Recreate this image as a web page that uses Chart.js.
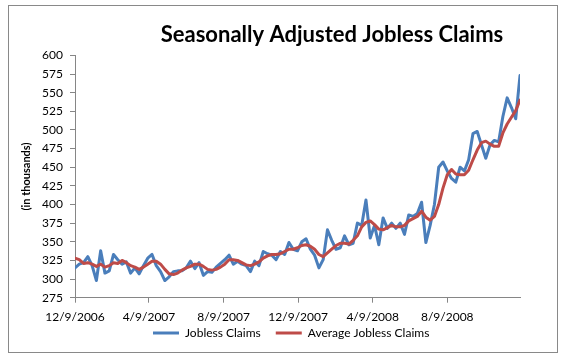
<!DOCTYPE html>
<html><head><meta charset="utf-8">
<script src="https://cdn.jsdelivr.net/npm/chart.js@4"></script>
<style>
html,body{margin:0;padding:0;background:#fff;}
#wrap{position:relative;width:564px;height:361px;}
#frame{position:absolute;left:8px;top:5px;width:550px;height:348px;border:1px solid #898989;box-sizing:border-box;pointer-events:none;}
canvas{position:absolute;left:0;top:0;}
</style></head><body>
<div id="wrap"><canvas id="c" width="564" height="361"></canvas><div id="frame"></div></div>
<script>
// Weekly series starting with the week of 12/9/2006 (one value per week)
const firstWeek = '12/9/2006';
const joblessClaims = [
  315,320,322,330,318,298,338,308,311,333,
  326,320,323,308,315,307,318,328,333,318,
  310,298,303,310,311,311,315,324,314,322,
  305,310,309,316,321,326,332,320,324,320,
  318,310,324,318,337,334,332,326,337,333,
  349,340,338,350,354,340,332,315,326,366,
  352,340,342,358,346,348,375,372,406,355,
  372,346,382,368,375,368,375,360,386,384,
  388,403,349,372,400,450,457,445,435,430,
  450,445,460,495,498,480,462,480,486,484,
  518,543,530,515,573
];
const averageClaims = [
  328,326,321,322,320,317,320,316,318,322,
  321,325,322,318,316,313,316,320,324,324,
  320,313,307,306,308,312,315,317,320,320,
  317,313,312,313,316,320,326,326,325,322,
  319,318,320,323,328,331,333,333,334,337,
  340,340,342,345,346,344,340,333,330,335,
  340,345,348,348,347,352,358,370,376,378,
  373,367,366,369,372,370,370,372,378,381,
  384,391,383,379,384,400,422,440,447,441,
  440,440,446,460,473,483,485,481,478,478,
  496,508,517,526,540
];
const tickDates = ['12/9/2006','4/9/2007','8/9/2007','12/9/2007','4/9/2008','8/9/2008'];
const yMin = 275, yMax = 600, yStep = 25;
const seriesNames = ['Jobless Claims', 'Average Jobless Claims'];
const seriesColors = ['#4A7EBB', '#BE4B48'];

function dayNum(s){ const [m,d,y] = s.split('/').map(Number); return Date.UTC(y, m-1, d) / 86400000; }
const day0 = dayNum(firstWeek);
const tickDays = tickDates.map(s => dayNum(s) - day0);
const toPoints = arr => arr.map((v, i) => ({x: i * 7, y: v}));
const lastDay = (joblessClaims.length - 1) * 7;

Chart.defaults.font.family = 'Lato';
Chart.defaults.color = '#000';

const posPlugin = {
  id: 'pos',
  beforeDraw(chart){
    const t = chart.titleBlock;
    if (t) { t.left = 332 - 260; t.right = 332 + 260; }
    const lg = chart.legend;
    if (lg) {
      const pad = lg.options.labels.padding;
      lg.left = 153 - pad; lg.right = lg.left + 420;
      lg.top = 333 - pad - 6;
    }
  }
};

new Chart(document.getElementById('c'), {
  type: 'line',
  data: {
    datasets: [
      {label: seriesNames[0], data: toPoints(joblessClaims), borderColor: seriesColors[0], backgroundColor: seriesColors[0],
       borderWidth: 3, pointRadius: 0, tension: 0, borderJoinStyle: 'round', borderCapStyle: 'round', order: 2},
      {label: seriesNames[1], data: toPoints(averageClaims), borderColor: seriesColors[1], backgroundColor: seriesColors[1],
       borderWidth: 3, pointRadius: 0, tension: 0, borderJoinStyle: 'round', borderCapStyle: 'round', order: 1}
    ]
  },
  options: {
    responsive: false, animation: false, devicePixelRatio: 1,
    layout: {padding: {left: 0, right: 44, top: 0, bottom: 0}},
    plugins: {
      title: {display: true, text: 'Seasonally Adjusted Jobless Claims', color: '#000',
              font: {family: 'Lato', size: 22, weight: 'bold'}, padding: {top: 22, bottom: 7}},
      legend: {position: 'bottom', align: 'start',
        labels: {boxWidth: 26, boxHeight: 3, padding: 15, color: '#000', font: {family: 'Lato', size: 12},
          sort: (a, b) => a.datasetIndex - b.datasetIndex,
          generateLabels: (chart) => Chart.defaults.plugins.legend.labels.generateLabels(chart)
            .map(l => Object.assign(l, {fillStyle: l.strokeStyle, lineWidth: 0}))}},
      tooltip: {enabled: false}
    },
    scales: {
      x: {type: 'linear', min: 0, max: lastDay,
        afterBuildTicks: (axis) => { axis.ticks = tickDays.map(v => ({value: v})); },
        ticks: {callback: (v, i) => tickDates[i], autoSkip: false, maxRotation: 0, color: '#000', font: {size: 12}, padding: 7},
        grid: {drawOnChartArea: false, drawTicks: true, tickLength: 5, color: '#868686'},
        border: {color: '#868686'},
        afterFit: (s) => { s.height = 361 - 297.7 - s.chart.legend.height; }
      },
      y: {min: yMin, max: yMax,
        ticks: {stepSize: yStep, color: '#000', padding: 7, font: {size: 12}},
        grid: {drawOnChartArea: false, drawTicks: true, tickLength: 5, color: '#868686'},
        border: {color: '#868686'},
        title: {display: true, text: '(in thousands)', color: '#000', font: {size: 11, weight: 'bold'}, padding: {top: 20, bottom: 0}},
        afterFit: (s) => { s.width = 75; }
      }
    }
  },
  plugins: [posPlugin]
});
</script>
</body></html>
